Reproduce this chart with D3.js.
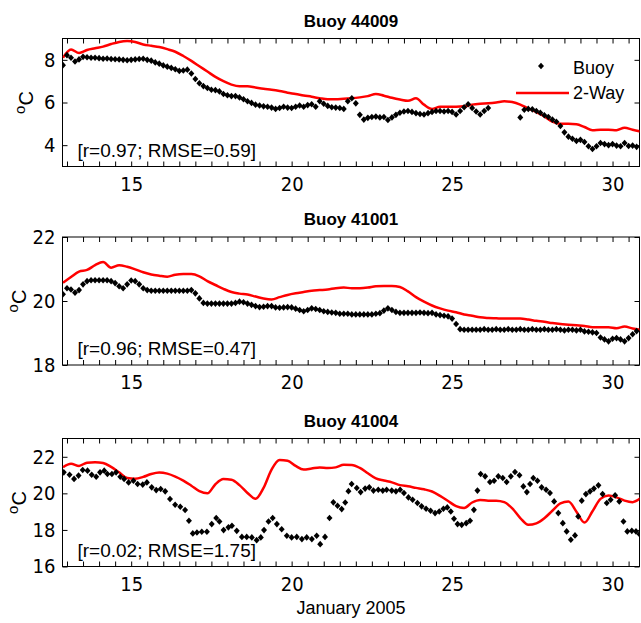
<!DOCTYPE html>
<html>
<head>
<meta charset="utf-8">
<script src="https://cdn.jsdelivr.net/npm/d3@7"></script>
<style>
  body { margin: 0; background: #fff; }
  text { font-family: "Liberation Sans", Arial, Helvetica, sans-serif; fill: #000; }
  .tick text { font-family: "Liberation Sans Narrow", "Arial Narrow", "DejaVu Sans Condensed", sans-serif; }
</style>
</head>
<body>
<svg id="chart" width="641" height="623"></svg>
<script>
// ---- Time axis (days of January 2005) ----
const xDomain = [12.86, 30.84];
const xTickValues = d3.range(13, 30.51, 0.5);
const xTickLabels = [15, 20, 25, 30];

// Buoy series sampled every 3 h, model series every 6 h
const buoyStart = 12.875, buoyStep = 0.125;
const modelStart = 12.875, modelStep = 0.25;

// ---- Buoy 44009 ----
const buoy44009 = [
  7.75, 8.22, 8.1, 7.92, 8.02, 8.14, 8.12, 8.1,
  8.1, 8.08, 8.05, 8.06, 8.04, 8.03, 8.02, 8.0,
  7.98, 8.0, 8.02, 8.04, 8.05, 8.0, 7.96, 7.88,
  7.82, 7.74, 7.68, 7.62, 7.56, 7.48, 7.5, 7.54,
  7.36, 7.1, 6.9, 6.77, 6.68, 6.6, 6.58, 6.52,
  6.4, 6.34, 6.3, 6.3, 6.24, 6.15, 6.06, 5.98,
  5.9, 5.86, 5.82, 5.8, 5.76, 5.7, 5.74, 5.8,
  5.76, 5.74, 5.8, 5.86, 5.8, 5.88, 5.92, 5.8,
  6.06, 5.94, 5.84, 5.78, 5.76, 5.74, 5.7, 6.06,
  6.2, 5.96, 5.42, 5.2, 5.28, 5.32, 5.34, 5.3,
  5.32, 5.18, 5.3, 5.42, 5.52, 5.58, 5.6, 5.56,
  5.5, 5.46, 5.44, 5.5, 5.56, 5.6, 5.6, 5.58,
  5.6, 5.56, 5.44, 5.6, 5.78, 5.92, 5.74, 5.58,
  5.44, 5.6, 5.74, null, null, null, null, null,
  null, null, 5.3, 5.66, 5.7, 5.68, 5.6, 5.52,
  5.4, 5.32, 5.2, 5.1, 4.9, 4.6, 4.4, 4.3,
  4.2, 4.25, 4.15, 3.95, 3.82, 3.95, 4.1, 4.05,
  4.0, 4.05, 3.98, 3.95, 4.1, 3.96, 3.98, 3.92
];
const model44009 = [
  8.1, 8.48, 8.32, 8.46,
  8.54, 8.62, 8.74, 8.84,
  8.88, 8.84, 8.72, 8.66,
  8.6, 8.5, 8.38, 8.18,
  7.95, 7.7, 7.45, 7.2,
  7.0, 6.84, 6.76, 6.76,
  6.7, 6.64, 6.6, 6.54,
  6.46, 6.4, 6.33, 6.27,
  6.2, 6.15, 6.15, 6.18,
  6.2, 6.24, 6.3, 6.4,
  6.32, 6.22, 6.14, 6.08,
  6.2, 5.9, 5.7, 5.8,
  5.8, 5.8, 5.82, 5.9,
  5.94, 5.96, 6.0, 6.06,
  6.02, 5.9, 5.72, 5.55,
  5.35, 5.1, 5.0, 5.0,
  4.98, 4.85, 4.7, 4.72,
  4.72, 4.7, 4.82, 4.72,
  4.64
];

// ---- Buoy 41001 ----
const buoy41001 = [
  20.21, 20.4, 20.36, 20.26, 20.34, 20.52, 20.62, 20.65,
  20.65, 20.65, 20.65, 20.65, 20.62, 20.56, 20.46, 20.4,
  20.52, 20.64, 20.62, 20.52, 20.4, 20.34, 20.32, 20.32,
  20.32, 20.32, 20.32, 20.32, 20.32, 20.32, 20.32, 20.32,
  20.34, 20.24, 20.08, 19.94, 19.92, 19.92, 19.92, 19.92,
  19.92, 19.92, 19.92, 19.94, 19.98, 19.96, 19.92, 19.88,
  19.84, 19.81, 19.82, 19.84, 19.84, 19.8, 19.79, 19.8,
  19.81, 19.8, 19.76, 19.72, 19.68, 19.72, 19.77, 19.75,
  19.72, 19.68, 19.66, 19.64, 19.63, 19.6, 19.6, 19.6,
  19.58, 19.58, 19.58, 19.58, 19.58, 19.58, 19.6, 19.62,
  19.7, 19.77, 19.72, 19.66, 19.63, 19.63, 19.63, 19.63,
  19.63, 19.64, 19.63, 19.62, 19.63, 19.58, 19.56, 19.54,
  19.52, 19.45, 19.28, 19.12, 19.1, 19.1, 19.1, 19.1,
  19.1, 19.12, 19.1, 19.1, 19.12, 19.1, 19.1, 19.12,
  19.1, 19.1, 19.12, 19.1, 19.1, 19.12, 19.1, 19.1,
  19.12, 19.1, 19.1, 19.12, 19.1, 19.08, 19.1, 19.1,
  19.08, 19.1, 19.05, 19.04, 19.02, 19.0, 18.86, 18.8,
  18.74, 18.82, 18.84, 18.8, 18.74, 18.84, 18.96, 19.06
];
const model41001 = [
  20.57, 20.75, 20.92, 20.97,
  21.12, 21.22, 21.04, 21.12,
  21.07, 20.99, 20.9, 20.83,
  20.79, 20.76, 20.82, 20.84,
  20.84, 20.77, 20.62, 20.5,
  20.38, 20.28, 20.23, 20.2,
  20.14, 20.08, 20.05, 20.12,
  20.19, 20.24, 20.28, 20.32,
  20.34, 20.36, 20.4, 20.42,
  20.4, 20.4, 20.42, 20.46,
  20.47, 20.47, 20.44, 20.3,
  20.12, 19.98, 19.86, 19.77,
  19.7, 19.65, 19.58, 19.54,
  19.49, 19.47, 19.46, 19.45,
  19.45, 19.45, 19.42, 19.38,
  19.35, 19.31, 19.28, 19.26,
  19.24, 19.22, 19.18, 19.18,
  19.18, 19.15, 19.2, 19.14,
  19.1
];

// ---- Buoy 41004 (irregular sampling) ----
const buoy41004Day = [
  12.9, 13.08, 13.22, 13.36, 13.49, 13.64, 13.77, 13.91, 14.03, 14.16,
  14.26, 14.4, 14.53, 14.66, 14.78, 14.92, 15.07, 15.2, 15.36, 15.49,
  15.64, 15.78, 15.92, 16.06, 16.21, 16.37, 16.53, 16.68, 16.8, 16.92,
  17.05, 17.2, 17.36, 17.51, 17.65, 17.75, 17.88, 18.03, 18.14, 18.29,
  18.45, 18.6, 18.76, 18.91, 19.04, 19.14, 19.28, 19.41, 19.54, 19.69,
  19.85, 20.0, 20.16, 20.32, 20.47, 20.63, 20.78, 20.89, 21.04, 21.18,
  21.3, 21.43, 21.56, 21.67, 21.77, 21.87, 22.03, 22.15, 22.29, 22.42,
  22.55, 22.7, 22.84, 22.96, 23.12, 23.25, 23.38, 23.5, 23.64, 23.77,
  23.92, 24.05, 24.19, 24.33, 24.47, 24.6, 24.73, 24.85, 24.96, 25.06,
  25.17, 25.3, 25.44, 25.56, 25.68, 25.79, 25.89, 26.03, 26.18, 26.31,
  26.44, 26.58, 26.7, 26.83, 26.96, 27.1, 27.22, 27.33, 27.43, 27.53,
  27.66, 27.79, 27.93, 28.05, 28.18, 28.31, 28.45, 28.57, 28.7, 28.83,
  28.93, 29.04, 29.17, 29.3, 29.42, 29.56, 29.69, 29.82, 29.94, 30.08,
  30.21, 30.34, 30.46, 30.6, 30.73, 30.84
];
const buoy41004 = [
  21.15, 21.02, 20.79, 20.97, 21.28, 21.24, 21.02, 20.91, 21.15, 21.24,
  21.06, 21.06, 21.15, 20.91, 20.79, 20.6, 20.69, 20.51, 20.48, 20.6,
  20.33, 20.18, 20.24, 20.11, 19.69, 19.38, 19.27, 19.09, 18.5, 17.81,
  17.86, 17.9, 17.9, 18.32, 18.65, 18.46, 17.99, 18.14, 18.23, 17.95,
  17.62, 17.62, 17.59, 17.44, 17.59, 17.99, 18.46, 18.65, 18.32, 18.04,
  17.68, 17.59, 17.62, 17.5, 17.59, 17.5, 17.68, 17.22, 17.62, 18.65,
  19.51, 19.32, 19.14, 19.5, 20.12, 20.51, 20.29, 20.07, 20.26, 20.33,
  20.15, 20.2, 20.15, 20.2, 20.15, 20.11, 20.2, 20.02, 19.78, 19.65,
  19.47, 19.29, 19.16, 19.05, 18.92, 19.01, 19.16, 19.23, 19.01, 18.61,
  18.32, 18.28, 18.37, 18.5, 19.1, 20.15, 21.06, 20.93, 20.62, 20.69,
  20.93, 20.84, 20.62, 20.93, 21.17, 20.99, 20.38, 20.07, 20.51, 20.84,
  20.69, 20.33, 20.2, 20.02, 19.56, 18.92, 18.37, 17.92, 17.46, 17.7,
  18.74, 19.6, 19.96, 20.11, 20.26, 20.44, 19.96, 19.47, 19.65, 19.89,
  19.56, 18.46, 17.92, 17.95, 17.92, 17.77
];
const model41004 = [
  21.43, 21.62, 21.5, 21.68,
  21.7, 21.66, 21.45, 21.15,
  20.84, 20.8, 20.9, 21.06,
  21.14, 21.08, 20.92, 20.7,
  20.42, 20.12, 20.0, 20.5,
  20.78, 20.74, 20.45, 20.02,
  19.7, 20.3, 21.3, 21.82,
  21.78, 21.5, 21.3, 21.36,
  21.42, 21.38, 21.42, 21.56,
  21.55, 21.39, 21.1, 20.82,
  20.7, 20.6, 20.45, 20.39,
  20.3, 20.22, 20.1, 19.86,
  19.58, 19.3, 19.2, 19.5,
  19.64, 19.6, 19.6, 19.52,
  19.18, 18.65, 18.28, 18.36,
  18.64, 19.05, 19.45, 19.55,
  19.0, 18.4, 19.02, 19.7,
  19.88, 19.78, 19.6, 19.52,
  19.74
];

// ---- Panel setup ----
const gridDays = (start, step, n) => d3.range(n).map(i => start + i * step);

const panels = [
  { title: "Buoy 44009", top: 38.5, yDomain: [3, 9], yTicks: [4, 6, 8],
    stats: "[r=0.97; RMSE=0.59]",
    obsDay: gridDays(buoyStart, buoyStep, buoy44009.length), obs: buoy44009,
    modDay: gridDays(modelStart, modelStep, model44009.length), mod: model44009,
    ylabelX: 33, legend: true },
  { title: "Buoy 41001", top: 237, yDomain: [18, 22], yTicks: [18, 20, 22],
    stats: "[r=0.96; RMSE=0.47]",
    obsDay: gridDays(buoyStart, buoyStep, buoy41001.length), obs: buoy41001,
    modDay: gridDays(modelStart, modelStep, model41001.length), mod: model41001,
    ylabelX: 26, legend: false },
  { title: "Buoy 41004", top: 438.5, yDomain: [16, 23], yTicks: [16, 18, 20, 22],
    stats: "[r=0.02; RMSE=1.75]",
    obsDay: buoy41004Day, obs: buoy41004,
    modDay: gridDays(modelStart, modelStep, model41004.length), mod: model41004,
    ylabelX: 26, legend: false }
];

const left = 62.5, right = 639.5, panelH = 128;
const svg = d3.select("#chart");

const x = d3.scaleLinear().domain(xDomain).range([left, right]);

// MATLAB-style diamond marker
const diamondType = {
  draw(ctx, size) {
    const h = Math.sqrt(size) / 2, w = h * 0.9;
    ctx.moveTo(0, -h); ctx.lineTo(w, 0); ctx.lineTo(0, h); ctx.lineTo(-w, 0); ctx.closePath();
  }
};
const diamond = d3.symbol().type(diamondType).size(44);

panels.forEach((p, k) => {
  const top = p.top, bottom = p.top + panelH;
  const y = d3.scaleLinear().domain(p.yDomain).range([bottom, top]);
  const g = svg.append("g");

  const clipId = "clip" + k;
  svg.append("clipPath").attr("id", clipId)
    .append("rect").attr("x", left).attr("y", top).attr("width", right - left).attr("height", panelH);

  // axes box
  g.append("rect").attr("x", left).attr("y", top).attr("width", right - left).attr("height", panelH)
    .attr("fill", "none").attr("stroke", "#000").attr("stroke-width", 1);

  // x ticks (inward), labels on bottom only
  const fmtX = d => xTickLabels.includes(d) ? String(d) : "";
  const bx = g.append("g").attr("transform", `translate(0,${bottom})`)
    .call(d3.axisBottom(x).tickValues(xTickValues).tickFormat(fmtX).tickSize(-5).tickSizeOuter(0).tickPadding(10));
  const tx = g.append("g").attr("transform", `translate(0,${top})`)
    .call(d3.axisTop(x).tickValues(xTickValues).tickFormat("").tickSize(-5).tickSizeOuter(0));

  // y ticks (inward) with labels on left
  const ly = g.append("g").attr("transform", `translate(${left},0)`)
    .call(d3.axisLeft(y).tickValues(p.yTicks).tickFormat(d3.format("d")).tickSize(-5).tickSizeOuter(0).tickPadding(7));
  const ry = g.append("g").attr("transform", `translate(${right},0)`)
    .call(d3.axisRight(y).tickValues(p.yTicks).tickFormat("").tickSize(-5).tickSizeOuter(0));

  [bx, tx, ly, ry].forEach(a => {
    a.select(".domain").remove();
    a.selectAll("line").attr("stroke", "#000");
    a.selectAll("text").attr("font-size", 20).attr("font-family", null);
  });

  // model line
  const line = d3.line()
    .defined(d => d[1] != null)
    .x(d => x(d[0])).y(d => y(d[1]))
    .curve(d3.curveMonotoneX);
  g.append("path")
    .datum(p.modDay.map((d, i) => [d, p.mod[i]]))
    .attr("clip-path", `url(#${clipId})`)
    .attr("d", line)
    .attr("fill", "none").attr("stroke", "#ff0000").attr("stroke-width", 2.5)
    .attr("stroke-linejoin", "round");

  // buoy observations
  g.append("g").attr("clip-path", `url(#${clipId})`)
    .selectAll("path")
    .data(p.obsDay.map((d, i) => [d, p.obs[i]]).filter(d => d[1] != null))
    .join("path")
    .attr("transform", d => `translate(${x(d[0])},${y(d[1])})`)
    .attr("d", diamond)
    .attr("fill", "#000");

  // title
  svg.append("text").attr("x", (left + right) / 2).attr("y", top - 12)
    .attr("text-anchor", "middle").attr("font-size", 17).attr("font-weight", "bold")
    .text(p.title);

  // statistics annotation
  svg.append("text").attr("x", left + 15).attr("y", bottom - 10)
    .attr("font-size", 19).text(p.stats);

  // y label: degrees C
  const yl = svg.append("text")
    .attr("transform", `translate(${p.ylabelX},${(top + bottom) / 2}) rotate(-90)`)
    .attr("text-anchor", "middle");
  yl.append("tspan").attr("font-size", 15).attr("dy", -8).text("o");
  yl.append("tspan").attr("font-size", 20).attr("dy", 8).text("C");

  // legend
  if (p.legend) {
    const lg = svg.append("g");
    lg.append("path").attr("transform", "translate(541,66)").attr("d", diamond).attr("fill", "#000");
    lg.append("text").attr("x", 573).attr("y", 74).attr("font-size", 18).text("Buoy");
    lg.append("line").attr("x1", 516).attr("x2", 569).attr("y1", 93).attr("y2", 93)
      .attr("stroke", "#ff0000").attr("stroke-width", 2.5);
    lg.append("text").attr("x", 573).attr("y", 99).attr("font-size", 18).text("2-Way");
  }
});

// x label
svg.append("text").attr("x", (left + right) / 2).attr("y", 614)
  .attr("text-anchor", "middle").attr("font-size", 18).text("January 2005");
</script>
</body>
</html>
